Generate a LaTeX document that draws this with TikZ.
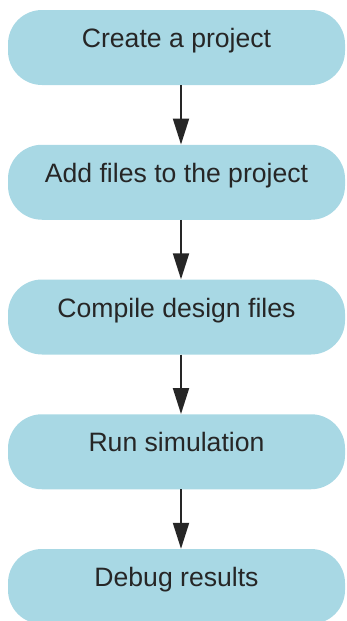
\documentclass[tikz,border=0pt]{standalone}
\usepackage{fontspec}
\setmainfont{Liberation Sans}
\usetikzlibrary{arrows.meta, positioning}
\usepackage{xcolor}
\definecolor{boxblue}{HTML}{A8D8E4}
\def\stepsep{134.75pt}

\begin{document}
\begin{tikzpicture}[x=1pt, y=1pt, node distance=\stepsep]
    \tikzstyle{stepbox}=[rectangle, rounded corners=34pt, fill=boxblue, minimum width=337pt, minimum height=75pt, inner sep=0pt, text depth=12pt, text height=12pt, text=black!85, font=\fontsize{26.6}{30}\selectfont]
    \tikzstyle{flow}=[-{Triangle[length=26pt, width=16pt]}, line width=2pt, draw=black!85]

    \useasboundingbox (0,0) rectangle (346,-621);

    % Draw the steps, one below the other
    \node[stepbox] (create) at (176.5,-47.5) {Create a project};
    \node[stepbox, below of=create] (add) {Add files to the project};
    \node[stepbox, below of=add] (compile) {Compile design files};
    \node[stepbox, below of=compile] (run) {Run simulation};
    \node[stepbox, below of=run] (debug) {Debug results};

    % Connect each step with the next one
    \foreach \source/\dest in {create/add, add/compile, compile/run, run/debug}
        \draw[flow] ([xshift=4.5pt]\source.south) -- ([xshift=4.5pt]\dest.north);
\end{tikzpicture}
\end{document}
